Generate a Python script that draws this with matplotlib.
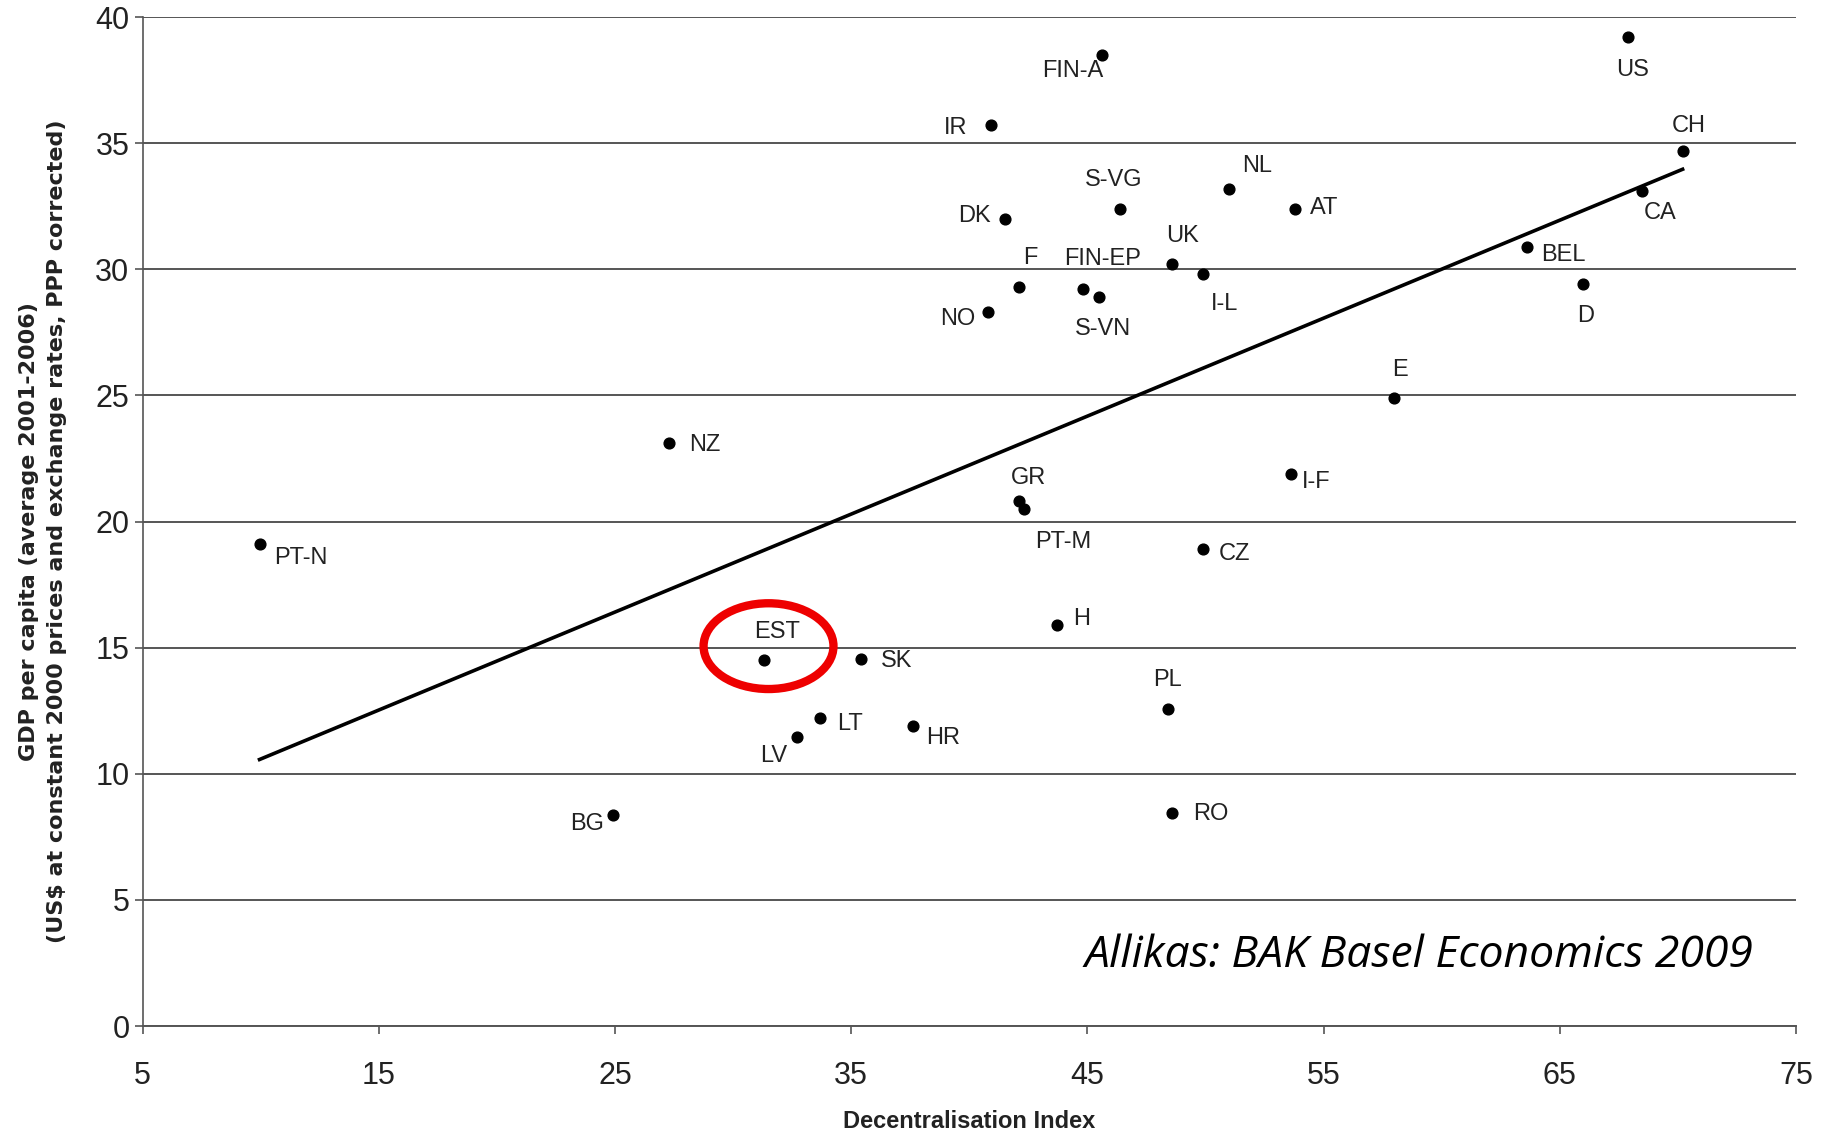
import numpy as np
import matplotlib
matplotlib.use("Agg")
import matplotlib.pyplot as plt
from matplotlib.patches import Ellipse

# data
names = ["US", "FIN-A", "IR", "CH", "NL", "CA", "DK", "S-VG", "AT", "BEL",
         "UK", "I-L", "D", "F", "FIN-EP", "S-VN", "NO", "E", "NZ", "I-F",
         "GR", "PT-M", "PT-N", "CZ", "H", "EST", "SK", "PL", "LT", "HR",
         "LV", "BG", "RO"]
decentr = [67.9, 45.6, 40.9, 70.2, 51.0, 68.5, 41.5, 46.4, 53.8, 63.6,
           48.6, 49.9, 66.0, 42.1, 44.8, 45.5, 40.8, 58.0, 27.3, 53.6,
           42.1, 42.3, 9.95, 49.9, 43.7, 31.3, 35.4, 48.4, 33.7, 37.6,
           32.7, 24.9, 48.6]
gdp = [39.2, 38.5, 35.7, 34.7, 33.2, 33.1, 32.0, 32.4, 32.4, 30.9,
       30.2, 29.8, 29.4, 29.3, 29.2, 28.9, 28.3, 24.9, 23.1, 21.9,
       20.8, 20.5, 19.1, 18.9, 15.9, 14.5, 14.55, 12.55, 12.2, 11.9,
       11.45, 8.35, 8.45]
xticks = [5, 15, 25, 35, 45, 55, 65, 75]
yticks = [0, 5, 10, 15, 20, 25, 30, 35, 40]

# label offsets (screen px of the reference, +dy = down)
offs = {"US": (4, 28), "FIN-A": (-25, 14), "IR": (-30, 2), "CH": (5, -21),
        "NL": (24, -19), "CA": (15, 19), "DK": (-26, -2), "S-VG": (-6, -25),
        "AT": (25, -1), "BEL": (31, 7), "UK": (9, -24), "I-L": (18, 25),
        "D": (2, 27), "F": (10, -25), "FIN-EP": (17, -26), "S-VN": (3, 27),
        "NO": (-26, 6), "E": (5, -24), "NZ": (30, 1), "I-F": (22, 7),
        "GR": (8, -20), "PT-M": (34, 28), "PT-N": (35, 12), "CZ": (27, 4),
        "H": (21, -5), "EST": (11, -24), "SK": (31, 2), "PL": (0, -25),
        "LT": (25, 5), "HR": (26, 10), "LV": (-20, 16), "BG": (-22, 7),
        "RO": (33, 1)}

fam = ["Liberation Sans", "DejaVu Sans"]

fig = plt.figure(figsize=(18.33, 11.35), dpi=100)
ax = fig.add_axes([0.0778, 0.096, 0.902, 0.889])

ax.set_xlim(5, 75)
ax.set_ylim(0, 40)
ax.set_xticks(xticks)
ax.set_yticks(yticks)
ax.yaxis.grid(True, color="#555555", linewidth=1.4)
ax.set_axisbelow(True)
for s in ["top", "right"]:
    ax.spines[s].set_visible(False)
ax.spines["left"].set_color("#555555")
ax.spines["bottom"].set_color("#555555")
ax.spines["left"].set_linewidth(1.2)
ax.spines["bottom"].set_linewidth(1.4)
ax.tick_params(axis="both", colors="#555555", length=6, width=1.2)
ax.tick_params(axis="x", pad=19)
for lab in ax.get_xticklabels() + ax.get_yticklabels():
    lab.set_family(fam)
    lab.set_fontsize(22)
    lab.set_color("#222222")

# trend line
b, a = np.polyfit(decentr, gdp, 1)
xl = np.array([min(decentr), max(decentr)])
ax.plot(xl, a + b * xl, color="black", linewidth=2.6)

ax.scatter(decentr, gdp, s=60, color="black", zorder=3)

k = 1.169 * 0.72
for n, x, y in zip(names, decentr, gdp):
    dx, dy = offs[n]
    ax.annotate(n, (x, y), xytext=(dx * k, -dy * k), textcoords="offset points",
                ha="center", va="center", fontsize=17, family=fam,
                color="#222222")

ax.add_patch(Ellipse((31.5, 15.06), 5.5, 3.4, fill=False,
                     edgecolor="#ee0000", linewidth=6, zorder=4))

ax.set_xlabel("Decentralisation Index", fontsize=17, fontweight="bold",
              family=fam, color="#222222")
ax.xaxis.set_label_coords(0.5, -0.083)
ax.set_ylabel("GDP per capita (average 2001-2006)\n"
              "(US$ at constant 2000 prices and exchange rates, PPP corrected)",
              fontsize=16, fontweight="bold", color="#222222",
              linespacing=1.5)
ax.yaxis.set_label_coords(-0.046, 0.49)

ax.text(0.974, 0.07, "Allikas: BAK Basel Economics 2009", transform=ax.transAxes,
        ha="right", va="center", fontsize=32, style="italic",
        family=["Open Sans", "DejaVu Sans"])

fig.savefig("out.png", dpi=100)
